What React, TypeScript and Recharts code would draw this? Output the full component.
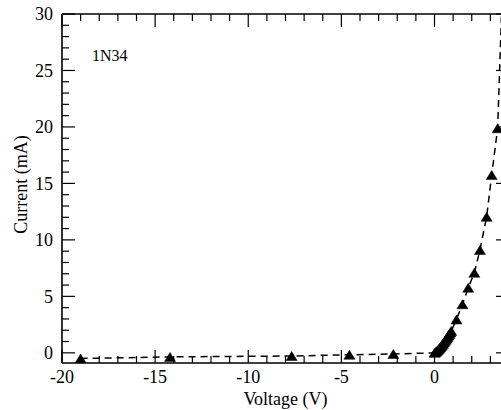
import React from 'react';
import { LineChart, Line, XAxis, YAxis, ReferenceLine } from 'recharts';

// Measured diode I-V curve (1N34)
const voltage = [
  -19, -14.2, -7.67, -4.57, -2.21,
  0, 0.05, 0.1, 0.15, 0.2, 0.25, 0.3, 0.35, 0.4, 0.45, 0.5, 0.55, 0.6, 0.65, 0.7, 0.75, 0.8, 0.85, 0.9,
  1.18, 1.5, 1.81, 2.14, 2.44, 2.8, 3.07, 3.39, 3.62,
];
const current = [
  -0.5, -0.36, -0.28, -0.17, -0.1,
  0, 0.06, 0.13, 0.2, 0.29, 0.38, 0.48, 0.58, 0.69, 0.8, 0.92, 1.04, 1.16, 1.28, 1.41, 1.54, 1.67, 1.8, 1.94,
  2.95, 4.3, 5.76, 7.09, 9.1, 12.05, 15.74, 19.88, 31,
];

const xLabelTicks = [-20, -15, -10, -5, 0];
const yLabelTicks = [0, 5, 10, 15, 20, 25, 30];
const xMarkTicks = [-20, -19, -18, -17, -16, -15, -14, -13, -12, -11, -10, -9, -8, -7, -6, -5, -4, -3, -2, -1, 0, 1, 2, 3, 4];
const yMarkTicks = [0, 1, 2, 3, 4, 5, 6, 7, 8, 9, 10, 11, 12, 13, 14, 15, 16, 17, 18, 19, 20, 21, 22, 23, 24, 25, 26, 27, 28, 29, 30];
const xDomain: [number, number] = [-20, 4];
const yDomain: [number, number] = [-0.9, 30];

const xLabel = 'Voltage (V)';
const yLabel = 'Current (mA)';
const seriesName = '1N34';

const data = voltage.map((v, i) => ({ v, c: current[i] }));

const FONT = '"Liberation Serif", "Times New Roman", serif';

// chart geometry
const W = 501;
const H = 410;
const M = { top: 14, right: -8, bottom: 0, left: 0 };
const X_AXIS_H = 47;
const Y_AXIS_W = 62;
const plotW = W - M.left - M.right - Y_AXIS_W;
const plotH = H - M.top - M.bottom - X_AXIS_H;
const pxPerX = plotW / (xDomain[1] - xDomain[0]);
const pxPerY = plotH / (yDomain[1] - yDomain[0]);

const isMajor = (v: number) => Math.abs(v % 5) < 1e-9;
const tickLen = (v: number) => (isMajor(v) ? 13 : 7);

const TriangleDot = (props: any) => {
  const { cx, cy, index } = props;
  if (cx == null || cy == null) return <g key={index} />;
  const w = 5.5;
  const h = 9;
  return (
    <path
      key={index}
      d={`M${cx},${cy - h / 2} L${cx + w},${cy + h / 2} L${cx - w},${cy + h / 2} Z`}
      fill="#000"
      stroke="#000"
      strokeWidth={0.5}
    />
  );
};

const tickStyle = { stroke: '#000', strokeWidth: 1.2 };

export default function App() {
  const bottomMarks = xMarkTicks.map((v) => (
    <ReferenceLine
      key={`b${v}`}
      segment={[{ x: v, y: yDomain[0] }, { x: v, y: yDomain[0] + tickLen(v) / pxPerY }]}
      {...tickStyle}
    />
  ));
  const topMarks = xMarkTicks.map((v) => (
    <ReferenceLine
      key={`t${v}`}
      segment={[{ x: v, y: yDomain[1] }, { x: v, y: yDomain[1] - tickLen(v) / pxPerY }]}
      {...tickStyle}
    />
  ));
  const leftMarks = yMarkTicks.map((v) => (
    <ReferenceLine
      key={`l${v}`}
      segment={[{ x: xDomain[0], y: v }, { x: xDomain[0] + tickLen(v) / pxPerX, y: v }]}
      {...tickStyle}
    />
  ));
  const rightMarks = yMarkTicks.map((v) => (
    <ReferenceLine
      key={`r${v}`}
      segment={[{ x: xDomain[1], y: v }, { x: xDomain[1] - tickLen(v) / pxPerX, y: v }]}
      {...tickStyle}
    />
  ));

  const yCx = 21;
  const yCy = M.top + plotH / 2 - 4;

  return (
    <div style={{ position: 'fixed', left: 0, top: 0, width: W, height: H, overflow: 'hidden', background: '#fff' }}>
      <LineChart width={W} height={H} data={data} margin={M}>
        <XAxis
          dataKey="v"
          type="number"
          domain={xDomain}
          ticks={xLabelTicks}
          interval={0}
          tickSize={0}
          tickMargin={7}
          height={X_AXIS_H}
          axisLine={{ stroke: '#000', strokeWidth: 1.6 }}
          tick={{ fill: '#000', fontSize: 18, fontFamily: FONT }}
          allowDataOverflow
        />
        <YAxis
          type="number"
          dataKey="c"
          domain={yDomain}
          ticks={yLabelTicks}
          interval={0}
          tickSize={0}
          tickMargin={9}
          width={Y_AXIS_W}
          axisLine={{ stroke: '#000', strokeWidth: 1.6 }}
          tick={{ fill: '#000', fontSize: 18, fontFamily: FONT }}
          allowDataOverflow
        />
        <ReferenceLine y={yDomain[1]} stroke="#000" strokeWidth={1.6} />
        <ReferenceLine x={xDomain[1]} stroke="#000" strokeWidth={1.6} />
        {bottomMarks}
        {topMarks}
        {leftMarks}
        {rightMarks}
        <Line
          dataKey="c"
          type="linear"
          stroke="#000"
          strokeWidth={1.5}
          strokeDasharray="7 5"
          dot={TriangleDot}
          activeDot={false}
          isAnimationActive={false}
        />
      </LineChart>
      <svg width={W} height={H} style={{ position: 'absolute', left: 0, top: 0, pointerEvents: 'none' }}>
        <text x={Y_AXIS_W + plotW / 2} y={H - 5} textAnchor="middle" fontFamily={FONT} fontSize={18} fill="#000">
          {xLabel}
        </text>
        <text x={yCx} y={yCy} transform={`rotate(-90 ${yCx} ${yCy})`} textAnchor="middle" dominantBaseline="central" fontFamily={FONT} fontSize={18} fill="#000">
          {yLabel}
        </text>
        <text x={Y_AXIS_W + 30} y={M.top + 47} textAnchor="start" fontFamily={FONT} fontSize={16} fill="#000">
          {seriesName}
        </text>
      </svg>
    </div>
  );
}
